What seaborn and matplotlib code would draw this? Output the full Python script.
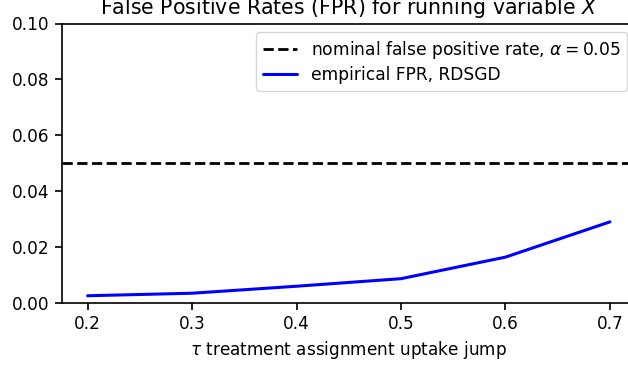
import matplotlib
matplotlib.use("Agg")
import matplotlib.pyplot as plt
import seaborn as sns
import pandas as pd

tau = [0.2, 0.3, 0.4, 0.5, 0.6, 0.7]
fpr = [0.0027, 0.0036, 0.0061, 0.0088, 0.0165, 0.0291]
alpha = 0.05

sns.set_theme(style="ticks")
plt.rcParams["font.family"] = ["DejaVu Sans"]
plt.rcParams["mathtext.fontset"] = "dejavusans"
plt.rcParams["text.color"] = "black"
plt.rcParams["axes.labelcolor"] = "black"
fs = 12.2

fig = plt.figure(figsize=(6.28, 3.68), dpi=100)
left_px, right_px = 61.5, 636.0
bottom = (368 - 303.3) / 368
top = (368 - 23.5) / 368
ax = fig.add_axes([left_px / 628, bottom, (right_px - left_px) / 628, top - bottom])

df = pd.DataFrame({"tau": tau, "fpr": fpr})
ax.axhline(alpha, color="black", linestyle="--", linewidth=2.0,
           label=r"nominal false positive rate, $\alpha = 0.05$")
sns.lineplot(data=df, x="tau", y="fpr", ax=ax, color="blue", linewidth=2.2,
             label="empirical FPR, RDSGD")

ax.set_xlim(0.175, 0.725)
ax.set_ylim(0, 0.10)
ax.set_xticks(tau)
ax.set_yticks([0, 0.02, 0.04, 0.06, 0.08, 0.10])
ax.set_yticklabels(["0.00", "0.02", "0.04", "0.06", "0.08", "0.10"])
ax.tick_params(labelsize=fs, length=5, width=1.2, color="black", labelcolor="black")
for s in ax.spines.values():
    s.set_color("black")
    s.set_linewidth(1.2)
ax.set_xlabel(r"$\tau$ treatment assignment uptake jump", fontsize=fs, color="black")
ax.set_ylabel("")
ax.set_title(r"False Positive Rates (FPR) for running variable $X$", fontsize=14.8, color="black", pad=7)
leg = ax.legend(loc="upper right", fontsize=12.3, frameon=True, handlelength=2.0,
                labelspacing=0.3)
leg.get_frame().set_edgecolor("#cccccc")
for t in leg.get_texts():
    t.set_color("black")

fig.savefig("out.png", dpi=100)
